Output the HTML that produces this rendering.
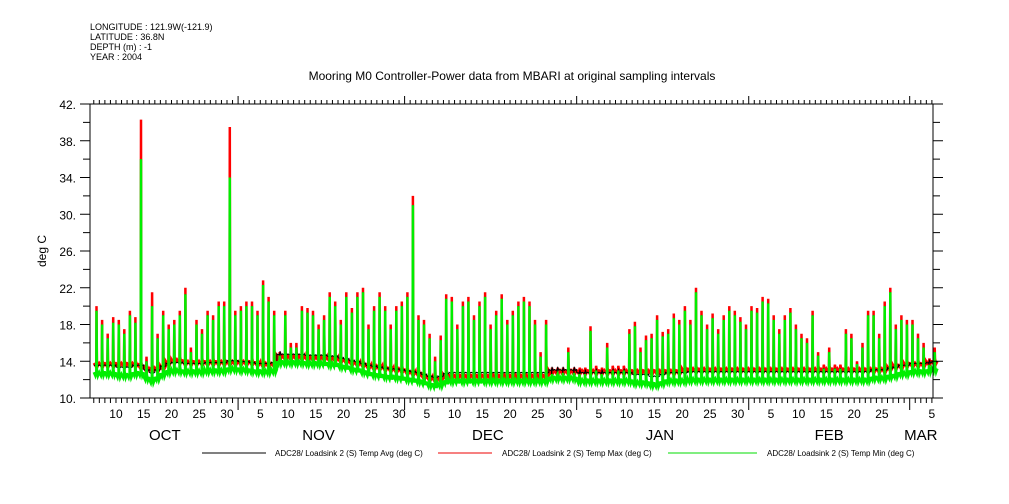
<!DOCTYPE html>
<html><head><meta charset="utf-8">
<style>
html,body{margin:0;padding:0;background:#fff;}
svg{display:block;font-family:"Liberation Sans","DejaVu Sans",sans-serif;}
</style></head>
<body>
<svg id="chart" width="1009" height="504" viewBox="0 0 1009 504" xmlns="http://www.w3.org/2000/svg">
<g font-size="9" fill="#000">
<text x="90" y="30">LONGITUDE : 121.9W(-121.9)</text>
<text x="90" y="40">LATITUDE : 36.8N</text>
<text x="90" y="50">DEPTH (m) : -1</text>
<text x="90" y="60">YEAR : 2004</text>
</g>
<text x="512" y="80" text-anchor="middle" font-size="12">Mooring M0 Controller-Power data from MBARI at original sampling intervals</text>
<text transform="translate(46,251) rotate(-90)" text-anchor="middle" font-size="12">deg C</text>
<g id="series"></g>
<g id="axes"></g>
<g font-size="8">
<line x1="202" y1="453" x2="266" y2="453" stroke="#000" stroke-width="1"/>
<text x="275" y="456">ADC28/ Loadsink 2 (S) Temp Avg (deg C)</text>
<line x1="438" y1="453" x2="492" y2="453" stroke="#e00" stroke-width="1"/>
<text x="502" y="456">ADC28/ Loadsink 2 (S) Temp Max (deg C)</text>
<line x1="668" y1="453" x2="757" y2="453" stroke="#0d0" stroke-width="1"/>
<text x="767" y="456">ADC28/ Loadsink 2 (S) Temp Min (deg C)</text>
</g>
</svg>
<script>
// day index: Oct 1 2004 = 0; data starts Oct 6 (day 5)
const startDay = 5;
const peakMax = [20,18.5,17,18.8,18.5,17.5,19.5,18.8,40.3,14.5,21.5,17,19.5,18,18.5,19.5,22,15.5,18.5,17.5,19.5,19,20.5,20.5,39.5,19.5,
20,20.5,20.5,19.5,22.8,21,19.5,15,19.5,16,16,20,19.8,19.5,18,19,21.5,20.5,18.5,21.5,19.8,21.5,22,18,20,21.5,20,18,20,20.5,
21.5,32,19,18.5,17,14.5,16.8,21.3,21,18,20.5,21,19,20.5,21.5,18,19.5,21.3,18.5,19.5,20.5,21,20.5,18.5,15,18.5,12.5,12.8,13,15.5,13,
13,13,17.8,13.5,13,16,13.5,13.5,13.5,17.5,18.3,15.5,16.8,17,19,17.2,17.5,19.2,18.5,20,18.5,22,19.5,18,19.2,17.5,19,20,19.5,18.8,18,
20,19.8,21,20.8,19,17.5,19,19.8,18,17,16.5,19.5,15,13.5,15.5,13.5,13.5,17.5,17,14,16,19.5,19.5,17,20.5,22,18,19,18.5,
18.5,17,16,14,15.5];
const peakMin = [19.5,18,16.5,18.2,18,17,19,18.2,36,14,20,16.5,19,17.5,18,19,21.3,15,18,17,19,18.5,20,20,34,19,
19.5,20,20,19,22.3,20.5,19,14.6,19,15.5,15.5,19.5,19.3,19,17.5,18.5,21,20,18,21,19.3,21,21.5,17.5,19.5,21,19.5,17.5,19.5,20,
21,31,18.5,18,16.5,14,16.3,20.8,20.5,17.5,20,20.5,18.5,20,21,17.5,19,20.8,18,19,20,20.5,20,18,14.5,18,12.3,12.5,12.6,15,12.6,
12.6,12.6,17.3,13,12.6,15.5,13,13,13,17,17.8,15,16.3,16.5,18.5,16.7,17,18.7,18,19.5,18,21.5,19,17.5,18.7,17,18.5,19.5,19,18.3,17.5,
19.5,19.3,20.5,20.3,18.5,17,18.5,19.3,17.5,16.5,16,19,14.6,13.2,15,13.2,13.2,17,16.5,13.7,15.5,19,19,16.5,20,21.5,17.5,18.5,18,
18,16.5,15.5,13.6,15];
const baseMax = [13.8,13.8,13.8,13.8,13.8,13.8,13.8,13.8,13.6,13.3,13.3,13.3,13.5,14.0,14.2,14.2,14.0,14.0,14.0,14.0,14.0,14.0,14.0,14.0,14.0,14.0,
14.0,14.0,14.0,13.9,13.8,13.8,13.8,14.6,14.6,14.6,14.6,14.6,14.5,14.5,14.5,14.5,14.4,14.4,14.3,14.2,14.0,13.9,13.8,13.6,13.5,13.5,13.4,13.3,13.2,13.2,
13.0,12.9,12.8,12.5,12.3,12.2,12.2,12.5,12.5,12.5,12.5,12.5,12.5,12.5,12.5,12.5,12.5,12.5,12.5,12.5,12.5,12.5,12.5,12.5,12.5,12.5,13.0,13.0,13.0,13.0,13.0,
13.0,13.0,13.0,13.0,13.0,13.0,13.0,13.0,13.0,13.0,13.0,13.0,13.0,13.0,13.0,13.0,13.0,13.0,13.0,13.2,13.2,13.2,13.2,13.2,13.2,13.2,13.2,13.2,13.2,13.2,13.2,
13.2,13.2,13.2,13.2,13.2,13.2,13.2,13.2,13.2,13.2,13.2,13.2,13.2,13.2,13.2,13.2,13.2,13.2,13.2,13.2,13.2,13.2,13.2,13.2,13.2,13.4,13.6,13.6,13.8,
13.8,13.8,13.8,14.0,14.0];
const baseMin = [12.8,12.8,12.8,12.8,12.6,12.6,12.6,12.8,12.8,12.3,12.0,12.3,12.7,13.0,13.1,13.1,13.0,13.0,13.0,13.0,13.1,13.1,13.1,13.1,13.3,13.3,
13.2,13.2,13.1,13.0,13.0,13.0,13.1,14.0,14.0,14.0,14.0,14.0,13.9,13.9,13.9,13.9,13.8,13.8,13.6,13.5,13.3,13.2,13.0,12.8,12.7,12.6,12.5,12.4,12.4,12.3,
12.2,12.1,12.0,11.8,11.6,11.5,11.6,11.9,12.0,12.0,12.0,12.0,12.0,12.0,12.0,12.0,12.0,12.0,12.0,12.0,12.0,12.0,12.0,12.0,12.0,12.0,12.3,12.3,12.3,12.3,12.3,
12.0,12.0,12.0,12.0,12.0,12.0,12.0,12.0,12.0,12.0,11.8,11.8,11.8,11.6,11.6,11.8,12.0,12.0,12.0,12.0,12.1,12.1,12.1,12.1,12.1,12.1,12.1,12.1,12.1,12.1,12.1,
12.1,12.1,12.1,12.1,12.1,12.1,12.1,12.1,12.1,12.1,12.1,12.1,12.1,12.1,12.1,12.1,12.1,12.1,12.1,12.1,12.1,12.1,12.3,12.3,12.3,12.5,12.6,12.8,12.8,
13.0,13.0,13.0,13.1,13.2];
const yTicks = [10,14,18,22,26,30,34,38,42];
const dayLabels = [
 [9,"10"],[14,"15"],[19,"20"],[24,"25"],[29,"30"],
 [35,"5"],[40,"10"],[45,"15"],[50,"20"],[55,"25"],[60,"30"],
 [65,"5"],[70,"10"],[75,"15"],[80,"20"],[85,"25"],[90,"30"],
 [96,"5"],[101,"10"],[106,"15"],[111,"20"],[116,"25"],[121,"30"],
 [127,"5"],[132,"10"],[137,"15"],[142,"20"],[147,"25"],
 [156,"5"]];
const monthStarts = [31,61,92,123,152];
const monthLabels = [[17.8,"OCT"],[45.5,"NOV"],[76,"DEC"],[107,"JAN"],[137.5,"FEB"],[154,"MAR"]];

const L=90,R=933,T=104,B=398;
const d0=4.32,d1=156.2;
const x=d=>L+(d-d0)/(d1-d0)*(R-L);
const y=v=>B-(v-10)/32*(B-T);
const NS="http://www.w3.org/2000/svg";
const series=document.getElementById('series');
const axes=document.getElementById('axes');
function mk(tag,attrs,parent){const e=document.createElementNS(NS,tag);for(const k in attrs)e.setAttribute(k,attrs[k]);parent.appendChild(e);return e;}

function spikePath(peaks,bases,dip){
  let p="";
  for(let i=0;i<peaks.length;i++){
    const d=startDay+i, b=bases[i];
    const pts=[[d,b],[d+0.3,b-dip],[d+0.45,b],[d+0.5,peaks[i]],[d+0.56,b+0.3],[d+0.75,b-dip],[d+0.99,b]];
    pts.forEach((q,j)=>{p+=(i===0&&j===0?"M":"L")+x(q[0]).toFixed(1)+","+y(q[1]).toFixed(1);});
  }
  return p;
}
const redBand=mk('path',{d:spikePath(peakMax,baseMax,0.3),fill:"none",stroke:"#f00","stroke-width":"2.5"},series);


const avgLine=mk('path',{d:spikePath(peakMin,baseMin.map(v=>v+0.8),0.1),fill:"none",stroke:"#000","stroke-width":"1"},series);


const greenLine=mk('path',{d:spikePath(peakMin,baseMin,0.4),fill:"none",stroke:"#0e0","stroke-width":"2.5"},series);



const frame=mk('rect',{x:L,y:T,width:R-L,height:B-T,fill:"none",stroke:"#000","stroke-width":"1"},axes);


for(let v=10;v<=42;v+=2){
  const major=yTicks.includes(v);
  const yy=y(v);
  const t1=mk('line',{x1:L-(major?10:7),y1:yy,x2:L,y2:yy,stroke:"#000"},axes);
  
  
  const t2=mk('line',{x1:R,y1:yy,x2:R+(major?10:7),y2:yy,stroke:"#000"},axes);
  
  
}
yTicks.forEach(v=>{
  const t=mk('text',{x:L-14,y:y(v)+5,"text-anchor":"end","font-size":"12"},axes);
  t.textContent=v+".";
  
  
});
for(let d=5;d<=156;d++){
  const xx=x(d);
  const major=monthStarts.includes(d);
  const a=mk('line',{x1:xx,y1:B,x2:xx,y2:B+(major?12:5),stroke:"#000"},axes);
  
  
  const b=mk('line',{x1:xx,y1:T,x2:xx,y2:T-(major?8:4),stroke:"#000"},axes);
  
  
}
dayLabels.forEach(l=>{
  const t=mk('text',{x:x(l[0]),y:418,"text-anchor":"middle","font-size":"12"},axes);
  t.textContent=l[1];
  
  
});
monthLabels.forEach(l=>{
  const t=mk('text',{x:x(l[0]),y:440,"text-anchor":"middle","font-size":"15"},axes);
  t.textContent=l[1];
  
  
});
</script>
</body></html>
